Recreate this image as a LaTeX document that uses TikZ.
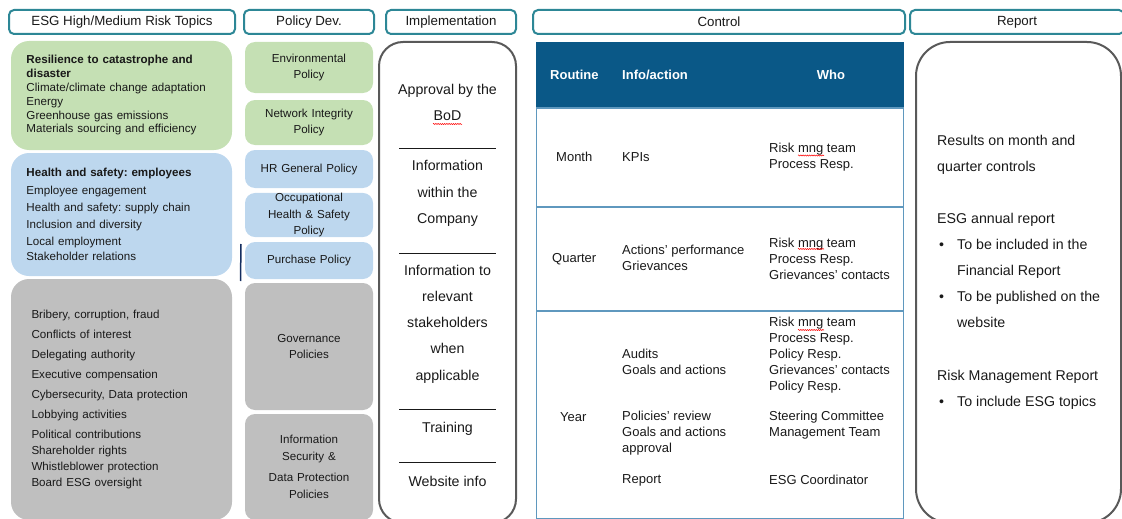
\documentclass[tikz,border=0pt]{standalone}
\usepackage{fontspec}
\setmainfont{Liberation Sans}
\usetikzlibrary{decorations.pathmorphing}
\frenchspacing

\definecolor{headteal}{RGB}{45,135,150}
\definecolor{esggreen}{RGB}{197,224,180}
\definecolor{esgblue}{RGB}{189,215,238}
\definecolor{esggrey}{RGB}{191,191,191}
\definecolor{tablenavy}{RGB}{10,88,135}
\definecolor{tableline}{RGB}{95,152,190}
\definecolor{framegrey}{RGB}{89,89,89}
\definecolor{textdark}{RGB}{25,25,25}
\definecolor{markblue}{RGB}{20,45,95}

\newcommand{\rptbullet}{\makebox[20pt][l]{\hspace{2pt}\textbullet}}

\begin{document}
\begin{tikzpicture}[
    x=1pt, y=-1pt,
    head box/.style={draw=headteal, line width=2pt, rounded corners=5pt, fill=white, minimum height=24pt, inner sep=0pt, text=textdark, font=\fontsize{13.3}{16}\selectfont},
    topic box/.style={rounded corners=18pt, minimum width=221pt, inner ysep=0pt, align=left, text=textdark, font=\fontsize{11.6}{13.8}\selectfont},
    policy box/.style={rounded corners=10pt, minimum width=128pt, text width=124pt, inner xsep=2pt, inner ysep=0pt, align=center, text=textdark, font=\fontsize{11.6}{16.6}\selectfont},
    frame box/.style={draw=framegrey, line width=2pt},
    impl text/.style={align=center, inner sep=0pt, text=textdark, font=\fontsize{14.2}{26.3}\selectfont},
    sep line/.style={draw=textdark, line width=0.9pt},
    table line/.style={draw=tableline, line width=1.1pt},
    head cell/.style={anchor=west, inner sep=0pt, text=white, font=\fontsize{13}{16}\selectfont\bfseries},
    cell/.style={anchor=west, align=left, inner sep=0pt, text=textdark, font=\fontsize{13}{16}\selectfont},
    spell mark/.style={draw=red, line width=0.5pt, decorate, decoration={snake, amplitude=0.6pt, segment length=2.2pt}}
]
\useasboundingbox (0,0) rectangle (1122,519);

% Column headers
\node[head box, minimum width=226pt] (hTopics) at (122,22) {ESG High/Medium Risk Topics};
\node[head box, minimum width=130pt] (hPolicy) at (309,22) {Policy Dev.};
\node[head box, minimum width=130pt] (hImpl) at (451,22) {Implementation};
\node[head box, minimum width=372pt] (hControl) at (719,22) {Control};
\node[head box, minimum width=214pt] (hReport) at (1017,22) {Report};

% Risk topics
\node[topic box, fill=esggreen, minimum height=109pt, text width=190pt, inner xsep=15.5pt] (envTopics) at (121.5,95.5)
    {\textbf{Resilience to catastrophe and}\\\textbf{disaster}\\Climate/climate change adaptation\\Energy\\Greenhouse gas emissions\\Materials sourcing and efficiency};
\node[topic box, fill=esgblue, minimum height=123pt, text width=190pt, inner xsep=15.5pt, font=\fontsize{11.6}{17}\selectfont] (socTopics) at (121.5,214.5)
    {\textbf{Health and safety: employees}\\[1pt]Employee engagement\\Health and safety: supply chain\\Inclusion and diversity\\Local employment\\[-2pt]Stakeholder relations};
\node[topic box, fill=esggrey, minimum height=241pt, text width=180pt, inner xsep=20.5pt, font=\fontsize{11.6}{16}\selectfont] (govTopics) at (121.5,399.5)
    {Bribery, corruption, fraud\\[4pt]Conflicts of interest\\[4pt]Delegating authority\\[4pt]Executive compensation\\[4pt]Cybersecurity, Data protection\\[4pt]Lobbying activities\\[4pt]Political contributions\\Shareholder rights\\Whistleblower protection\\Board ESG oversight};

% Policies
\node[policy box, fill=esggreen, minimum height=51pt] (envPol) at (309,67.5) {Environmental\\Policy};
\node[policy box, fill=esggreen, minimum height=45pt] (netPol) at (309,122.5) {Network Integrity\\Policy};
\node[policy box, fill=esgblue, minimum height=38pt] (hrPol) at (309,169) {HR General Policy};
\node[policy box, fill=esgblue, minimum height=44pt] (ohsPol) at (309,215) {Occupational\\Health \& Safety\\Policy};
\node[policy box, fill=esgblue, minimum height=37pt] (buyPol) at (309,260.5) {Purchase Policy};
\node[policy box, fill=esggrey, minimum height=127pt] (govPol) at (309,346.5) {Governance\\Policies};
\node[policy box, fill=esggrey, minimum height=106pt] (secPol) at (309,467) {Information\\Security \&\\[5pt]Data Protection\\Policies};
\draw[markblue, line width=1.5pt] (241,244) -- (240.5,281);

% Implementation
\node[frame box, rounded corners=24pt, minimum width=137pt, minimum height=481pt] (impl) at (447.5,282.5) {};
\node[impl text] (approve) at (447.5,102.5) {Approval by the\\BoD};
\node[impl text] (inform) at (447.5,193.5) {Information\\within the\\Company};
\node[impl text] (stake) at (447.5,324) {Information to\\relevant\\stakeholders\\when\\applicable};
\node[impl text] (train) at (447.5,428.5) {Training};
\node[impl text] (web) at (447.5,481) {Website info};
\draw[sep line] (399,148) -- (496,148);
\draw[sep line] (399,253) -- (496,253);
\draw[sep line] (399,409) -- (496,409);
\draw[sep line] (399,462) -- (496,462);
\draw[spell mark] (433,124) -- (462,124);

% Control table
\fill[tablenavy] (536,42) rectangle (904,108);
\draw[table line] (536.5,108) rectangle (903.5,518.5);
\draw[table line] (536.5,207) -- (903.5,207);
\draw[table line] (536.5,311) -- (903.5,311);

\node[head cell] (routine) at (550,75) {Routine};
\node[head cell] (action) at (622,75) {Info/action};
\node[head cell, anchor=center] (who) at (831,75) {Who};

\node[cell] (month) at (556,157) {Month};
\node[cell] (kpi) at (622,157) {KPIs};
\node[cell] (whoMonth) at (769,157) {Risk mng team\\Process Resp.};

\node[cell] (quarter) at (552,259) {Quarter};
\node[cell] (actQuarter) at (622,258) {Actions' performance\\Grievances};
\node[cell] (whoQuarter) at (769,258.5) {Risk mng team\\Process Resp.\\Grievances' contacts};

\node[cell] (year) at (560,417) {Year};
\node[cell] (audits) at (622,362) {Audits\\Goals and actions};
\node[cell] (review) at (622,433) {Policies' review\\Goals and actions\\approval};
\node[cell] (report) at (622,480) {Report};
\node[cell] (whoAudit) at (769,355) {Risk mng team\\Process Resp.\\Policy Resp.\\Grievances' contacts\\Policy Resp.};
\node[cell] (whoReview) at (769,425.5) {Steering Committee\\Management Team};
\node[cell] (whoReport) at (769,480) {ESG Coordinator};

\draw[spell mark] (798,155.5) -- (824,155.5);
\draw[spell mark] (798,249) -- (824,249);
\draw[spell mark] (798,330) -- (824,330);

% Report
\node[frame box, rounded corners=34pt, minimum width=205pt, minimum height=481pt] (rpt) at (1018.5,282.5) {};
\node[anchor=west, align=left, inner sep=0pt, text=textdark, font=\fontsize{14.2}{26}\selectfont] (rptText) at (937,272.5)
    {Results on month and\\
     quarter controls\\[26pt]
     ESG annual report\\
     \rptbullet To be included in the\\
     \hspace*{20pt}Financial Report\\
     \rptbullet To be published on the\\
     \hspace*{20pt}website\\[27pt]
     Risk Management Report\\
     \rptbullet To include ESG topics};

\end{tikzpicture}
\end{document}
